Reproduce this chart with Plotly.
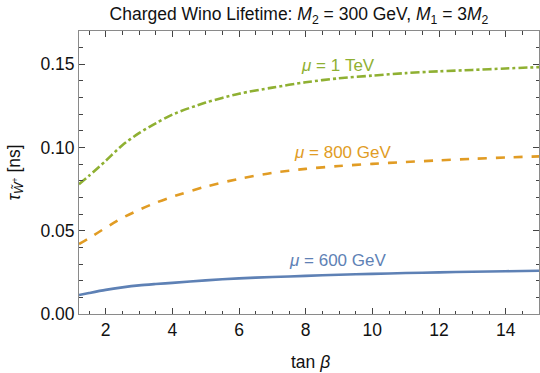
import plotly.graph_objects as go

tan_beta = [1.2, 1.5, 2.0, 2.5, 3.0, 3.5, 4.0, 5.0, 6.0, 7.0, 8.0, 9.0, 10.0, 11.0, 12.0, 13.0, 14.0, 15.0]
tau_mu600 = [0.0114, 0.0126, 0.0145, 0.0160, 0.0172, 0.0180, 0.0187, 0.0202, 0.0214, 0.0222, 0.0229, 0.0236, 0.0241, 0.0246, 0.0250, 0.0254, 0.0257, 0.0260]
tau_mu800 = [0.0420, 0.0455, 0.0518, 0.0577, 0.0625, 0.0668, 0.0704, 0.0765, 0.0812, 0.0848, 0.0872, 0.0889, 0.0902, 0.0913, 0.0923, 0.0932, 0.0940, 0.0947]
tau_mu1000 = [0.0780, 0.0830, 0.0920, 0.1014, 0.1086, 0.1145, 0.1198, 0.1270, 0.1323, 0.1360, 0.1392, 0.1416, 0.1432, 0.1447, 0.1458, 0.1466, 0.1475, 0.1483]

series_names = ["μ = 600 GeV", "μ = 800 GeV", "μ = 1 TeV"]
label_pos = [(8.95, 0.0324), (9.1, 0.0972), (8.98, 0.1494)]
colors = ["#5E81B5", "#E19C24", "#8FB032"]
dashes = ["solid", "dash", "dashdot"]

FONT = "Liberation Sans, Arial, sans-serif"
W, H = 540, 373
ML, MR, MT, MB = 79, 1, 31, 59
PW, PH = W - ML - MR, H - MT - MB

fig = go.Figure()
for ys, name, col, dash in zip([tau_mu600, tau_mu800, tau_mu1000], series_names, colors, dashes):
    fig.add_trace(go.Scatter(x=tan_beta, y=ys, mode="lines", name=name,
                             line=dict(color=col, width=2.6, dash=dash, shape="spline", smoothing=0.8),
                             showlegend=False))

for (lx, ly), name, col in zip(label_pos, series_names, colors):
    fig.add_annotation(x=lx, y=ly, xref="x", yref="y", showarrow=False,
                       text=name.replace("μ", "<i>μ</i>"), font=dict(color=col, size=17, family=FONT))

# y-axis title
fig.add_annotation(x=(15 - ML) / PW, y=0.5, xref="paper", yref="paper",
                   text="<i>τ</i><sub><i>W̃</i><sup>+</sup></sub> [ns]", textangle=-90, showarrow=False,
                   font=dict(size=17.5, color="#111", family=FONT), xanchor="center", yanchor="middle")
# x-axis title
fig.add_annotation(x=(310 - ML) / PW, y=-(362 - MT - PH) / PH, xref="paper", yref="paper",
                   text="tan <i>β</i>", showarrow=False,
                   font=dict(size=17.5, color="#111", family=FONT), xanchor="center", yanchor="middle")

axis_common = dict(showline=True, linecolor="#8a8a8a", linewidth=1, mirror="ticks",
                   ticks="inside", tickcolor="#444", ticklen=6, tickwidth=1,
                   showgrid=False, zeroline=False, automargin=False,
                   tickfont=dict(size=17.5, color="#111", family=FONT))

fig.update_xaxes(range=[1.2, 15], tick0=2, dtick=2,
                 minor=dict(ticks="inside", dtick=0.5, tick0=0, ticklen=3.5, tickcolor="#444", showgrid=False),
                 **axis_common)
fig.update_yaxes(range=[0, 0.17], tick0=0, dtick=0.05, tickformat=".2f",
                 minor=dict(ticks="inside", dtick=0.01, tick0=0, ticklen=3.5, tickcolor="#444", showgrid=False),
                 **axis_common)

fig.update_layout(
    width=W, height=H,
    margin=dict(l=ML, r=MR, t=MT, b=MB, autoexpand=False),
    paper_bgcolor="white", plot_bgcolor="white",
    title=dict(text="Charged Wino Lifetime: <i>M</i><sub>2</sub> = 300 GeV, <i>M</i><sub>1</sub> = 3<i>M</i><sub>2</sub>",
               x=299/540, xanchor="center", y=1 - 14/373, yanchor="middle",
               font=dict(size=17.5, color="#111", family=FONT)),
)

fig.write_html("out.html", config={"displayModeBar": False, "staticPlot": True},
               post_script="document.body.style.margin='0';document.body.style.overflow='hidden';")
